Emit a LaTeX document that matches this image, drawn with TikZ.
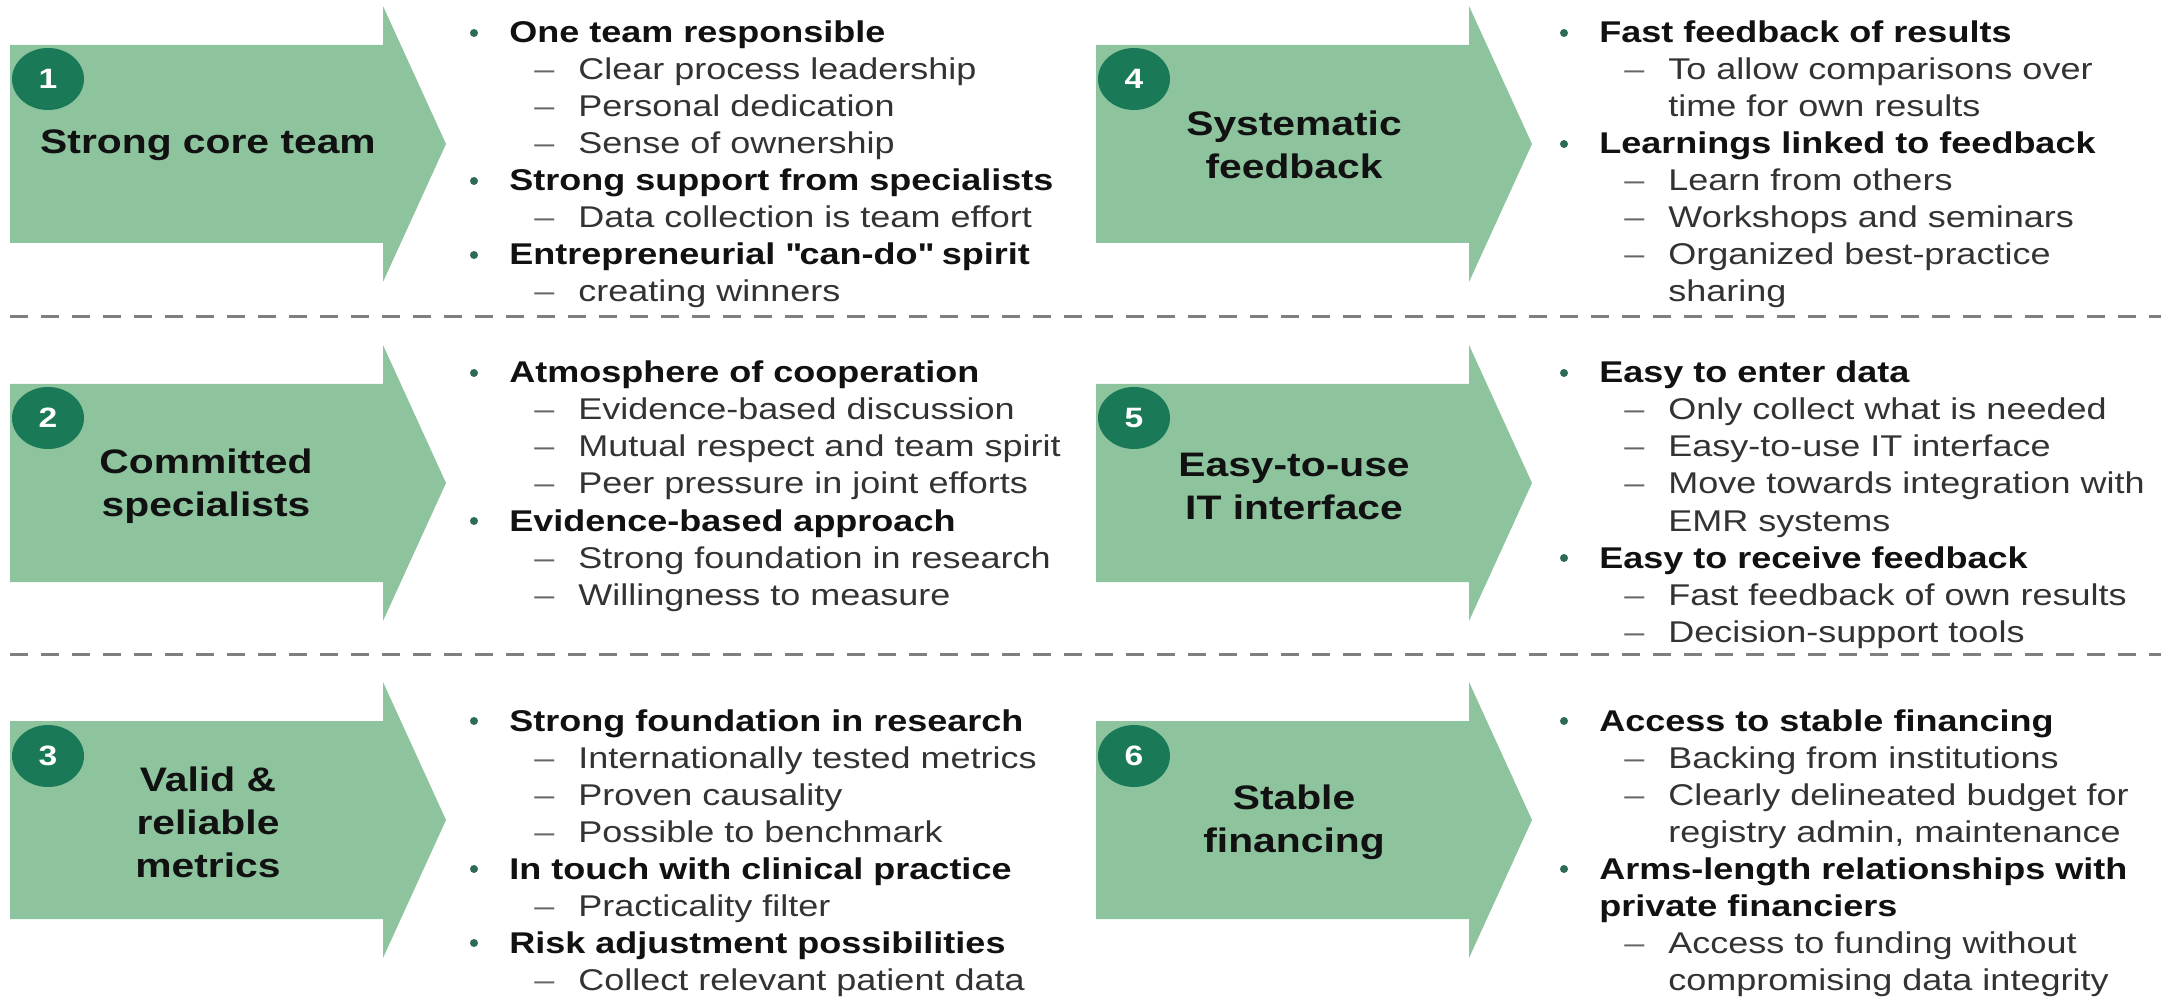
\documentclass[tikz,border=0pt]{standalone}
\usepackage{fontspec}
\setmainfont{Liberation Sans}[FakeStretch=1.2]
\usetikzlibrary{shapes.geometric}

\definecolor{chevrongreen}{HTML}{8DC49E}
\definecolor{badgegreen}{HTML}{1A7A58}
\definecolor{bulletgreen}{HTML}{2E6B55}
\definecolor{headcol}{HTML}{111111}
\definecolor{subcol}{HTML}{333333}
\definecolor{dashcol}{HTML}{666666}
\definecolor{sepcol}{HTML}{7F7F7F}

% green block arrow: #1 = left x, #2 = top of the shaft
\newcommand{\chevron}[2]{%
  \fill[chevronfill] (#1,#2) -- ++(373,0) -- ++(0,-39) -- ++(63,138)
    -- ++(-63,138) -- ++(0,-39) -- ++(-373,0) -- cycle;}

% bullet list: #1 name prefix, #2 x of headings, #3 first baseline, #4 lines
% kinds: b = bullet heading, h = heading continued, s = dash item, c = item continued
\newcommand{\colblock}[4]{%
  \foreach \kind/\words [count=\n from 0] in {#4}{%
    \pgfmathsetmacro{\yy}{#3+37*\n}%
    \if\kind b%
      \fill[bulletgreen] (#2-35,\yy-10) circle[radius=2pt];%
      \node[headtext] (#1-\n) at (#2,\yy) {\words};%
    \fi
    \if\kind h%
      \node[headtext] (#1-\n) at (#2,\yy) {\words};%
    \fi
    \if\kind s%
      \node[dashtext] (#1-d\n) at (#2+25,\yy) {–};%
      \node[subtext] (#1-\n) at (#2+69,\yy) {\words};%
    \fi
    \if\kind c%
      \node[subtext] (#1-\n) at (#2+69,\yy) {\words};%
    \fi
  }%
}

\begin{document}
\begin{tikzpicture}[x=0.5pt,y=-0.5pt,
  chevronfill/.style={fill=chevrongreen},
  badge/.style={ellipse,fill=badgegreen,inner sep=0pt,minimum width=36pt,
    minimum height=31pt,text=white,font=\bfseries\fontsize{14pt}{16pt}\selectfont},
  titletext/.style={align=center,inner sep=0pt,text=headcol,
    font=\bfseries\fontsize{17pt}{21.5pt}\selectfont},
  headtext/.style={anchor=base west,inner sep=0pt,text=headcol,
    font=\bfseries\fontsize{15pt}{18pt}\selectfont},
  subtext/.style={anchor=base west,inner sep=0pt,text=subcol,
    font=\fontsize{15pt}{18pt}\selectfont},
  dashtext/.style={anchor=base west,inner sep=0pt,text=dashcol,
    font=\fontsize{15pt}{18pt}\selectfont},
  sepline/.style={draw=sepcol,line width=1.5pt,dash pattern=on 9pt off 6.5pt}]

\useasboundingbox (0,0) rectangle (2161,999);

% row separators
\draw[sepline] (10,317) -- (2161,317);
\draw[sepline] (10,654) -- (2161,654);

% block arrows
\chevron{10}{45}
\chevron{1096}{45}
\chevron{10}{384}
\chevron{1096}{384}
\chevron{10}{721}
\chevron{1096}{721}

% numbered badges
\node[badge] (n1) at (48,79) {1};
\node[badge] (n4) at (1134,79) {4};
\node[badge] (n2) at (48,418) {2};
\node[badge] (n5) at (1134,418) {5};
\node[badge] (n3) at (48,756) {3};
\node[badge] (n6) at (1134,756) {6};

% arrow titles
\node[titletext] (t1) at (208,145) {Strong core team};
\node[titletext] (t4) at (1294,145) {Systematic\\feedback};
\node[titletext] (t2) at (206,486) {Committed\\specialists};
\node[titletext] (t5) at (1294,486) {Easy-to-use\\IT interface};
\node[titletext] (t3) at (208,822) {Valid \&\\reliable\\metrics};
\node[titletext] (t6) at (1294,822) {Stable\\financing};

% bullet lists
\colblock{a1}{509}{43}{b/One team responsible, s/Clear process leadership,
  s/Personal dedication, s/Sense of ownership, b/Strong support from specialists,
  s/Data collection is team effort,
  b/Entrepreneurial \textquotedbl can-do\textquotedbl{} spirit,
  s/creating winners}
\colblock{a4}{1599}{43}{b/Fast feedback of results, s/To allow comparisons over,
  c/time for own results, b/Learnings linked to feedback, s/Learn from others,
  s/Workshops and seminars, s/Organized best-practice, c/sharing}
\colblock{a2}{509}{383}{b/Atmosphere of cooperation, s/Evidence-based discussion,
  s/Mutual respect and team spirit, s/Peer pressure in joint efforts,
  b/Evidence-based approach, s/Strong foundation in research,
  s/Willingness to measure}
\colblock{a5}{1599}{383}{b/Easy to enter data, s/Only collect what is needed,
  s/Easy-to-use IT interface, s/Move towards integration with, c/EMR systems,
  b/Easy to receive feedback, s/Fast feedback of own results,
  s/Decision-support tools}
\colblock{a3}{509}{731}{b/Strong foundation in research,
  s/Internationally tested metrics, s/Proven causality, s/Possible to benchmark,
  b/In touch with clinical practice, s/Practicality filter,
  b/Risk adjustment possibilities, s/Collect relevant patient data}
\colblock{a6}{1599}{731}{b/Access to stable financing, s/Backing from institutions,
  s/Clearly delineated budget for, c/{registry admin, maintenance},
  b/Arms-length relationships with, h/private financiers,
  s/Access to funding without, c/compromising data integrity}

\end{tikzpicture}
\end{document}
